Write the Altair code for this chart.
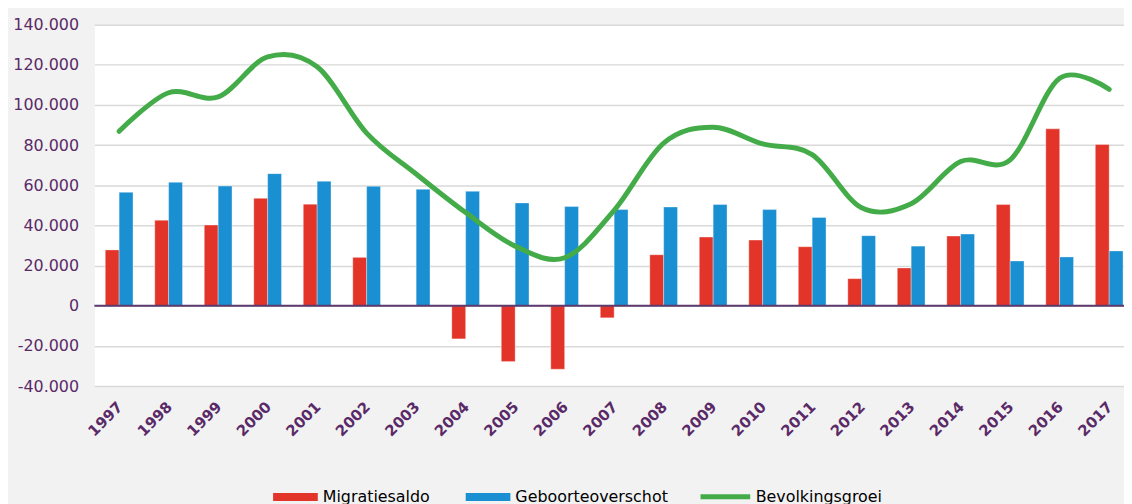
import altair as alt
import pandas as pd

years = [str(y) for y in range(1997, 2018)]
migratiesaldo = [27.8, 42.6, 40.2, 53.5, 50.6, 24.1, 0.0, -16.5, -27.8, -31.6, -6.0,
                 25.4, 34.2, 32.7, 29.4, 13.5, 18.8, 34.7, 50.4, 88.1, 80.3]
geboorteoverschot = [56.5, 61.5, 59.6, 65.8, 62.0, 59.5, 58.0, 57.0, 51.2, 49.4, 47.9,
                     49.2, 50.4, 47.9, 44.0, 34.9, 29.7, 35.7, 22.3, 24.3, 27.3]
bevolkingsgroei = [86.9, 106.1, 104.0, 123.9, 119.0, 86.0, 65.6, 46.4, 29.7, 23.9, 47.5,
                   81.0, 88.9, 80.6, 75.3, 48.8, 50.8, 71.8, 72.7, 113.3, 107.8]

bar_series = ["Migratiesaldo", "Geboorteoverschot"]
line_series = ["Bevolkingsgroei"]
y_ticks = [-40000, -20000, 0, 20000, 40000, 60000, 80000, 100000, 120000, 140000]

RED = "#e23428"
BLUE = "#1a8fd1"
GREEN = "#43ac48"
PURPLE = "#5a2a68"
ZERO = "#5d3a6e"

bars_df = pd.DataFrame({
    "year": years * 2,
    "serie": [bar_series[0]] * len(years) + [bar_series[1]] * len(years),
    "value": [v * 1000 for v in migratiesaldo] + [v * 1000 for v in geboorteoverschot],
})
line_df = pd.DataFrame({
    "year": years,
    "serie": line_series * len(years),
    "value": [v * 1000 for v in bevolkingsgroei],
})
zero_df = pd.DataFrame({"value": [0]})

x_enc = alt.X(
    "year:N",
    sort=years,
    scale=alt.Scale(range=[0, 1047], paddingInner=0.44, paddingOuter=0.22),
    axis=alt.Axis(
        title=None, labelAngle=-45, labelAlign="right", labelBaseline="top",
        labelFontSize=15, labelFontWeight="bold", labelColor=PURPLE,
        labelFont="DejaVu Sans", labelPadding=13, labelOffset=-4, ticks=False, tickSize=0,
        domain=False, grid=False, labelOverlap=False, labelBound=False,
    ),
)

y_enc = alt.Y(
    "value:Q",
    scale=alt.Scale(domain=[-40000, 140000], nice=False, zero=False),
    axis=alt.Axis(
        title=None, values=y_ticks,
        labelExpr="(datum.value < 0 ? '-' : '') + replace(format(abs(datum.value), ','), ',', '.')",
        labelFontSize=16, labelColor=PURPLE, labelFont="DejaVu Sans",
        labelPadding=16, ticks=False, tickSize=0, domain=False,
        grid=True, gridColor="#d9d9d9", gridWidth=1.5,
    ),
)

bars = alt.Chart(bars_df).mark_bar(
    stroke="white", strokeWidth=1, strokeOpacity=0.35
).encode(
    x=x_enc,
    xOffset=alt.XOffset("serie:N", sort=bar_series, scale=alt.Scale(domain=bar_series)),
    y=y_enc,
    fill=alt.Fill(
        "serie:N",
        scale=alt.Scale(domain=bar_series, range=[RED, BLUE]),
        legend=alt.Legend(
            title=None, orient="none", legendX=180, legendY=453,
            direction="horizontal", symbolType="M-1,-0.178H1V0.178H-1Z",
            symbolSize=2025, symbolStrokeWidth=0, symbolOpacity=1, labelFontSize=16,
            labelFont="DejaVu Sans", labelColor="black", labelOffset=5,
            columnPadding=36, padding=0,
        ),
    ),
)

zero = alt.Chart(zero_df).mark_rule(color=ZERO, strokeWidth=2).encode(y="value:Q")

line = alt.Chart(line_df).mark_line(
    interpolate="cardinal", strokeWidth=5, strokeCap="round"
).encode(
    x=x_enc,
    y=y_enc,
    stroke=alt.Stroke(
        "serie:N",
        scale=alt.Scale(domain=line_series, range=[GREEN]),
        legend=alt.Legend(
            title=None, orient="none", legendX=608, legendY=448,
            direction="horizontal", symbolType="stroke", symbolSize=2500,
            symbolStrokeWidth=5, labelFontSize=16, labelFont="DejaVu Sans",
            labelColor="black", labelOffset=3, padding=0,
        ),
    ),
)

chart = alt.layer(bars, zero, line).properties(
    width=1037,
    height=364,
    padding={"left": 87, "top": 15, "right": 0, "bottom": 117},
    autosize=alt.AutoSizeParams(type="none"),
).configure(
    background="#f2f2f2", font="DejaVu Sans"
).configure_view(
    fill="white", stroke="transparent"
)

chart.save("out.html", embed_options={"renderer": "svg", "actions": False})
